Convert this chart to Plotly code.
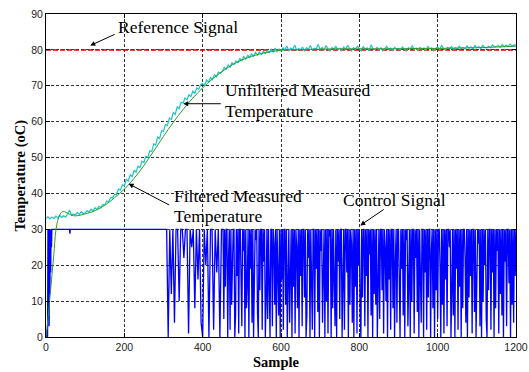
import numpy as np
import plotly.graph_objects as go

# ---------------- data ----------------
reference_x = [0, 1200]
reference_y = [80, 80]

# unfiltered measured temperature, every 5 samples (0..1200)
measured_x = list(range(0, 1201, 5))
measured_y = [
    33.1, 33.5, 32.9, 33.4, 33.0, 33.7, 33.2, 33.9, 33.3, 33.8,
    33.4, 34.2, 35.4, 33.9, 34.3, 34.0, 34.7, 34.2, 34.9, 34.4,
    34.5, 35.2, 34.8, 35.6, 35.1, 36.0, 35.5, 36.4, 36.0, 36.9,
    36.8, 37.9, 37.7, 38.9, 38.7, 39.8, 39.7, 41.2, 40.9, 42.4,
    42.1, 43.9, 43.4, 45.2, 44.7, 46.5, 45.9, 47.6, 47.2, 49.0,
    48.6, 50.4, 50.0, 51.9, 51.7, 53.8, 53.5, 55.7, 55.3, 57.4,
    57.3, 59.2, 58.9, 61.0, 60.6, 62.5, 62.0, 64.1, 63.6, 65.4,
    65.2, 66.6, 66.1, 67.5, 67.0, 68.5, 67.9, 69.4, 69.0, 70.4,
    70.6, 70.2, 71.6, 71.0, 72.3, 71.7, 73.1, 72.4, 73.8, 73.5,
    74.0, 75.1, 74.6, 75.8, 75.2, 76.4, 75.9, 76.9, 76.4, 77.6,
    77.0, 78.1, 77.4, 78.5, 77.9, 78.9, 78.2, 79.3, 78.5, 79.4,
    78.7, 79.6, 79.0, 79.9, 79.3, 80.2, 79.4, 80.5, 79.6, 80.3,
    79.7, 80.6, 80.0, 81.1, 79.8, 80.5, 80.1, 81.4, 79.9, 80.4,
    80.0, 80.8, 79.6, 80.6, 80.2, 81.2, 79.9, 80.5, 80.3, 81.5,
    80.1, 80.7, 79.9, 81.2, 80.3, 79.7, 80.6, 80.2, 81.0, 80.0,
    80.5, 79.8, 80.8, 80.1, 81.3, 80.3, 79.7, 80.6, 80.2, 81.0,
    80.4, 79.7, 80.9, 80.2, 80.6, 79.8, 81.4, 80.3, 80.1, 80.7,
    80.0, 80.6, 79.7, 80.4, 81.0, 80.1, 80.5, 79.8, 80.7, 80.2,
    80.4, 79.9, 80.8, 80.2, 79.7, 80.6, 80.3, 81.1, 80.1, 80.5,
    79.8, 80.7, 80.2, 80.5, 79.9, 81.0, 80.3, 80.6, 79.7, 80.4,
    80.8, 80.1, 81.3, 80.3, 80.0, 80.7, 80.4, 80.9, 80.2, 80.6,
    80.3, 81.0, 80.4, 80.7, 80.2, 81.1, 80.5, 80.8, 80.3, 81.2,
    80.6, 80.9, 80.4, 81.3, 80.7, 80.5, 81.0, 80.6, 81.4, 80.8,
    80.9, 81.2, 80.7, 81.5, 80.9, 81.3, 81.0, 81.6, 81.1, 81.4,
    81.3,
]

filtered_x = [0, 5, 10, 15, 20, 25, 30, 35, 40, 45, 50, 60, 70, 80, 90, 100,
              125, 150, 175, 200, 225, 250, 275, 300, 325, 350, 375, 400, 425,
              450, 475, 500, 525, 550, 575, 600, 650, 700, 750, 800, 850, 900,
              950, 1000, 1050, 1100, 1150, 1200]
filtered_y = [0, 5, 11, 17, 23, 29.5, 32.5, 34.0, 34.8, 35.0, 34.8, 34.2, 33.8,
              33.8, 34.0, 34.3, 35.2, 36.7, 38.8, 41.2, 44.2, 47.8, 51.8, 55.9,
              59.8, 63.4, 66.6, 69.4, 71.9, 74.0, 75.8, 77.2, 78.2, 79.0, 79.5,
              79.9, 80.1, 80.2, 80.3, 80.3, 80.3, 80.3, 80.4, 80.4, 80.5, 80.6,
              80.8, 81.0]

# control signal
control_start_x = [0, 1, 2, 3, 4, 5, 6, 7, 8, 9, 10, 11, 12, 13, 14, 15, 16,
                   60, 61, 62, 304]
control_start_y = [2, 1, 0, 1, 0, 30, 5, 30, 3, 30, 12, 30, 18, 30, 25, 30, 30,
                   30, 28.8, 30, 30]
# samples 308..448, every 4 samples
control_mid_y = [
    30, 0, 30, 12, 30, 4, 30, 30, 10, 30,
    30, 22, 30, 30, 1, 30, 25, 30, 8, 30,
    16, 30, 4, 0, 30, 20, 30, 0, 30, 30,
    2, 30, 18, 30, 0, 30,
]
# samples 452..1200, every 2 samples
control_late_y = [
    30, 5, 30, 14, 30, 30, 0, 22, 30, 2, 30, 9, 18, 30, 30,
    0, 6, 30, 17, 30, 1, 30, 30, 11, 3, 30, 24, 30, 0, 30,
    8, 15, 30, 0, 30, 19, 30, 4, 30, 0, 12, 30, 27, 30, 7,
    0, 30, 13, 30, 30, 2, 30, 21, 30, 0, 10, 30, 5, 30, 18,
    0, 30, 30, 3, 30, 26, 9, 30, 0, 30, 12, 6, 30, 0, 30,
    16, 30, 2, 30, 30, 9, 30, 0, 20, 30, 4, 14, 30, 0, 30,
    14, 30, 1, 30, 25, 8, 30, 0, 30, 17, 30, 3, 30, 30, 11,
    30, 0, 6, 30, 22, 30, 0, 30, 13, 2, 30, 30, 0, 30, 19,
    30, 7, 30, 0, 30, 24, 30, 4, 15, 30, 0, 30, 10, 30, 1,
    30, 28, 30, 0, 30, 8, 30, 16, 3, 30, 0, 30, 21, 30, 5,
    30, 30, 0, 12, 30, 2, 30, 30, 18, 30, 0, 30, 9, 30, 26,
    4, 30, 0, 30, 14, 30, 1, 30, 20, 30, 7, 0, 30, 11, 30,
    30, 3, 30, 17, 30, 0, 30, 23, 30, 6, 30, 0, 30, 12, 30,
    9, 30, 0, 18, 30, 5, 30, 30, 13, 30, 1, 30, 25, 10, 30,
    0, 30, 16, 30, 2, 30, 30, 8, 30, 0, 21, 30, 4, 30, 30,
    12, 0, 30, 19, 30, 6, 30, 0, 30, 27, 30, 3, 15, 30, 0,
    30, 10, 30, 30, 1, 30, 22, 30, 7, 30, 0, 30, 14, 4, 30,
    30, 0, 30, 18, 30, 2, 30, 11, 30, 30, 0, 24, 30, 8, 30,
    0, 30, 13, 30, 5, 30, 30, 20, 0, 30, 9, 30, 1, 30, 16,
    30, 3, 30, 30, 25, 30, 0, 12, 30, 6, 30, 0, 30, 19, 30,
    2, 30, 14, 30, 0, 30, 8, 30, 30, 22, 4, 30, 0, 30, 11,
    30, 17, 30, 1, 30, 30, 7, 30, 0, 15, 30, 26, 30, 3, 30,
    0, 30, 10, 30, 20, 30, 5, 0, 30, 13, 30, 30, 2, 30, 18,
    30, 0, 30, 8, 30, 24, 30, 1, 30, 12, 30, 6, 30, 0, 30,
    21, 30, 3, 30, 30, 15, 30, 0, 30, 9, 30, 4, 30, 17, 30,
]
control_mid_x = list(range(308, 449, 4))
control_late_x = list(range(452, 1201, 2))
assert len(control_mid_x) == len(control_mid_y)
assert len(control_late_x) == len(control_late_y)
assert len(measured_x) == len(measured_y)
assert len(filtered_x) == len(filtered_y)
control_x = control_start_x + control_mid_x + control_late_x
control_y = control_start_y + control_mid_y + control_late_y

x_ticks = [0, 200, 400, 600, 800, 1000, 1200]
y_ticks = [0, 10, 20, 30, 40, 50, 60, 70, 80, 90]

# ---------------- figure ----------------
fig = go.Figure()
fig.add_trace(go.Scatter(x=control_x, y=control_y, mode="lines",
                         line=dict(color="#0000FF", width=1.3), name="Control Signal"))
fig.add_trace(go.Scatter(x=reference_x, y=reference_y, mode="lines",
                         line=dict(color="#E00000", width=1.5, dash="5px,2px"),
                         name="Reference Signal"))
fig.add_trace(go.Scatter(x=measured_x, y=measured_y, mode="lines",
                         line=dict(color="#1BC6C6", width=1.2),
                         name="Unfiltered Measured Temperature"))
fig.add_trace(go.Scatter(x=filtered_x, y=filtered_y, mode="lines",
                         line=dict(color="#2E9B2E", width=1, shape="spline"),
                         name="Filtered Measured Temperature"))

serif = "Liberation Serif, Times New Roman, serif"
txt = dict(family=serif, size=17.5, color="black")

# arrows
arrows = [
    (113, 81.2, 26, -12),
    (350.5, 65.0, 39, 0),
    (210.9, 42.7, 42, 22),
    (802.4, 31.1, 25, -17),
]
for hx, hy, ax, ay in arrows:
    fig.add_annotation(x=hx, y=hy, ax=ax, ay=ay, xref="x", yref="y",
                       axref="pixel", ayref="pixel", text="", showarrow=True,
                       arrowhead=2, arrowsize=1, arrowwidth=1, arrowcolor="black",
                       standoff=0, startstandoff=0)

labels = [
    (178.7, 86.3, "Reference Signal"),
    (453.0, 68.9, "Unfiltered Measured"),
    (453.0, 63.1, "Temperature"),
    (322.0, 39.4, "Filtered Measured"),
    (322.0, 33.8, "Temperature"),
    (753.9, 38.3, "Control Signal"),
]
for lx, ly, t in labels:
    fig.add_annotation(x=lx, y=ly, xref="x", yref="y", text=t, showarrow=False,
                       xanchor="left", yanchor="middle", align="left", font=txt)

# axis titles
fig.add_annotation(x=0.489, y=-0.0774, xref="paper", yref="paper", text="<b>Sample</b>",
                   showarrow=False, xanchor="center", yanchor="middle",
                   font=dict(family=serif, size=14.5, color="black"))
fig.add_annotation(x=-0.0553, y=0.5, xref="paper", yref="paper",
                   text="<b>Temperature (oC)</b>", textangle=-90,
                   showarrow=False, xanchor="center", yanchor="middle",
                   font=dict(family=serif, size=14.5, color="black"))

axis_common = dict(
    showline=True, linecolor="black", linewidth=1, mirror="ticks",
    ticks="inside", ticklen=4, tickcolor="black", tickwidth=1,
    showgrid=True, gridcolor="#333333", gridwidth=1, griddash="3px,2px",
    zeroline=False,
    tickfont=dict(family="Liberation Sans, Arial, sans-serif", size=10.5, color="#222222"),
)
fig.update_xaxes(range=[0, 1200], tickvals=x_ticks, ticktext=[str(v) for v in x_ticks],
                 **axis_common)
fig.update_yaxes(range=[0, 90], tickvals=y_ticks, ticktext=[str(v) for v in y_ticks],
                 **axis_common)

fig.update_layout(
    width=529, height=372,
    margin=dict(l=46, r=13, t=14, b=35, autoexpand=False),
    paper_bgcolor="white", plot_bgcolor="white",
    showlegend=False,
)

fig.write_html("out.html", config={"displayModeBar": False},
               post_script="document.body.style.margin='0';document.body.style.padding='0';")
